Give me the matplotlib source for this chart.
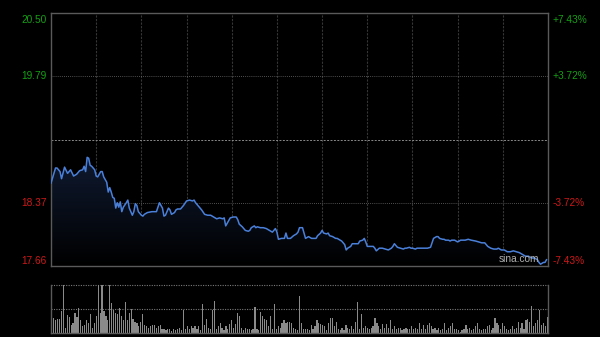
import numpy as np
import matplotlib
matplotlib.use("Agg")
import matplotlib.pyplot as plt
from matplotlib.colors import LinearSegmentedColormap

# ---------------- data ----------------
prev_close = 19.08
y_ticks_left = [20.50, 19.79, 18.37, 17.66]
left_labels = ["20.50", "19.79", "18.37", "17.66"]
right_labels = ["+7.43%", "+3.72%", "-3.72%", "-7.43%"]

minutes = [0, 3, 4, 6, 7, 9, 11, 12, 13, 15, 17, 19, 21, 22, 23, 24, 25, 26, 27, 29,
           30, 31, 33, 34, 35, 37, 38, 39, 40, 41, 42, 43, 44, 45, 46, 47, 48, 50, 51, 52,
           54, 55, 56, 57, 58, 60, 61, 62, 64, 67, 70, 71, 72, 74, 75, 76, 78, 79, 80, 82,
           83, 84, 86, 88, 90, 92, 94, 95, 96, 98, 99, 100, 102, 104, 106, 108, 110, 112, 114, 115,
           116, 118, 119, 121, 123, 124, 125, 127, 129, 131, 132, 133, 135, 136, 137, 139, 141, 143, 145, 147,
           149, 150, 151, 153, 155, 156, 157, 159, 161, 163, 164, 165, 167, 168, 169, 171, 173, 175, 176, 177,
           179, 180, 181, 183, 184, 185, 187, 189, 190, 192, 193, 195, 196, 197, 199, 200, 202, 204, 205, 207,
           208, 209, 210, 212, 214, 215, 216, 218, 219, 220, 222, 224, 226, 227, 228, 230, 232, 234, 235, 236,
           238, 239, 240, 242, 243, 245, 247, 248, 250, 252, 253, 254, 256, 257, 258, 260, 261, 262, 264, 265,
           266, 268, 270, 272, 275, 277, 279, 282, 284, 286, 288, 290, 292, 294, 296, 297, 299, 301, 303, 305,
           307, 309, 311, 313, 315, 317, 319, 320, 321, 323, 324, 325, 327, 328, 329]
prices = [18.59, 18.76, 18.76, 18.72, 18.64, 18.77, 18.70, 18.72, 18.74, 18.67, 18.69, 18.73, 18.74, 18.78, 18.72, 18.88, 18.87, 18.79, 18.78, 18.74,
          18.67, 18.66, 18.72, 18.72, 18.66, 18.60, 18.49, 18.54, 18.49, 18.43, 18.42, 18.31, 18.37, 18.32, 18.38, 18.27, 18.32, 18.37, 18.40, 18.31,
          18.23, 18.27, 18.36, 18.34, 18.27, 18.23, 18.22, 18.24, 18.26, 18.27, 18.27, 18.32, 18.37, 18.31, 18.22, 18.23, 18.31, 18.29, 18.24, 18.26,
          18.29, 18.30, 18.30, 18.34, 18.39, 18.40, 18.39, 18.40, 18.37, 18.33, 18.31, 18.29, 18.24, 18.23, 18.23, 18.21, 18.19, 18.20, 18.19, 18.20,
          18.11, 18.17, 18.20, 18.21, 18.21, 18.18, 18.13, 18.10, 18.06, 18.05, 18.06, 18.09, 18.11, 18.09, 18.10, 18.09, 18.09, 18.08, 18.06, 18.04,
          18.08, 18.04, 17.96, 17.97, 17.97, 18.03, 17.97, 17.97, 18.00, 18.02, 18.04, 18.09, 18.09, 18.03, 17.97, 17.99, 17.97, 17.97, 17.97, 18.00,
          18.03, 18.06, 18.03, 18.02, 18.03, 18.00, 17.99, 17.97, 17.97, 17.95, 17.94, 17.90, 17.84, 17.86, 17.88, 17.91, 17.91, 17.91, 17.94, 17.95,
          17.97, 17.93, 17.88, 17.88, 17.88, 17.86, 17.83, 17.86, 17.86, 17.86, 17.85, 17.84, 17.86, 17.88, 17.91, 17.87, 17.86, 17.85, 17.86, 17.86,
          17.87, 17.86, 17.86, 17.85, 17.86, 17.86, 17.86, 17.86, 17.86, 17.87, 17.92, 17.97, 17.99, 17.99, 17.97, 17.96, 17.96, 17.95, 17.95, 17.94,
          17.95, 17.95, 17.93, 17.95, 17.95, 17.96, 17.95, 17.94, 17.93, 17.92, 17.92, 17.88, 17.86, 17.85, 17.85, 17.86, 17.84, 17.84, 17.82, 17.82,
          17.83, 17.82, 17.81, 17.79, 17.77, 17.77, 17.75, 17.75, 17.75, 17.73, 17.70, 17.68, 17.70, 17.70, 17.73]

volumes = [61, 31, 27, 28, 28, 45, 100, 9, 37, 33, 16, 21, 41, 33, 52, 27, 13, 16, 27, 20,
           39, 9, 20, 35, 100, 41, 100, 45, 35, 27, 100, 62, 48, 41, 38, 52, 34, 27, 64, 27,
           41, 50, 28, 23, 20, 13, 23, 38, 16, 13, 9, 13, 16, 16, 9, 13, 16, 7, 7, 6,
           7, 7, 4, 7, 6, 7, 9, 6, 47, 7, 14, 7, 14, 9, 13, 7, 13, 6, 61, 16,
           28, 9, 7, 47, 66, 7, 13, 21, 9, 6, 13, 7, 18, 26, 9, 18, 41, 35, 9, 6,
           9, 7, 7, 6, 7, 54, 7, 6, 43, 35, 28, 27, 13, 34, 7, 59, 7, 13, 9, 20,
           27,
           20, 23, 23, 20, 9, 7, 6, 77, 20, 7, 7, 7, 6, 16, 7, 13, 26, 20, 18, 16,
           13, 6, 20, 30, 30, 13, 23, 7, 6, 9, 6, 16, 9, 7, 13, 7, 23, 64, 7, 38,
           9, 13, 9, 7, 9, 14, 30, 21, 14, 7, 18, 9, 18, 9, 27, 7, 13, 7, 9, 9,
           6, 7, 9, 7, 7, 13, 7, 9, 7, 20, 7, 16, 7, 16, 20, 13, 7, 9, 6, 9,
           6, 7, 20, 6, 9, 13, 20, 7, 7, 6, 2, 6, 7, 16, 7, 9, 6, 7, 14, 20,
           7, 6, 7, 7, 13, 16, 6, 9, 30, 20, 16, 7, 20, 13, 7, 6, 7, 13, 7, 9,
           23, 9, 21, 7, 27, 28, 23, 55, 13, 20, 27, 47, 16, 21, 13, 33]

# ---------------- figure ----------------
W, H = 600, 337
fig = plt.figure(figsize=(W / 100, H / 100), dpi=100, facecolor="black")
plt.rcParams['font.family'] = ['Liberation Sans', 'DejaVu Sans']

left = 51 / W
width = 497 / W
ax = fig.add_axes([left, 1 - 266 / H, width, 253 / H], facecolor="black")
axv = fig.add_axes([left, 1 - 332.5 / H, width, 47.5 / H], facecolor="black")

ymin, ymax = 17.66, 20.50
xmin, xmax = 0, 330

# gradient fill under the line
grad = LinearSegmentedColormap.from_list("g", ["#000000", "#0f1a30"])
img = ax.imshow(np.linspace(0, 1, 256).reshape(-1, 1), cmap=grad, origin="lower",
                extent=[xmin, xmax, ymin, max(prices)], aspect="auto", zorder=1)
poly = ax.fill_between(minutes, prices, ymin, color="none", lw=0)
img.set_clip_path(poly.get_paths()[0], transform=ax.transData)

ax.plot(minutes, prices, color="#4a80da", lw=1.1, zorder=3)

ax.set_xlim(xmin, xmax)
ax.set_ylim(ymin, ymax)
ax.set_xticks([])
ax.set_yticks([])
for s in ax.spines.values():
    s.set_color("#5a5a5a")
    s.set_linewidth(1.0)

# grid
for m in range(30, 330, 30):
    ax.axvline(m, color="#363636", lw=0.8, ls=(0, (2, 1.2)), zorder=0.5)
for v in [19.79, 18.37]:
    ax.axhline(v, color="#6a6a6a", lw=0.6, ls=(0, (1, 1.5)), zorder=0.5)
ax.axhline(prev_close, color="#8a8a8a", lw=0.7, ls=(0, (2, 1.5)), zorder=0.5)

# labels
green = "#14a014"
red = "#d01818"
fs = 7.3
for v, lt, rt in zip(y_ticks_left, left_labels, right_labels):
    col = green if v > prev_close else red
    if v == ymax:
        va, off = "top", -1.5
    elif v == ymin:
        va, off = "bottom", 0.3
    else:
        va, off = "center", 0
    ax.annotate(lt, xy=(0, v), xycoords=("axes fraction", "data"), xytext=(-3, off),
                textcoords="offset points", ha="right", va=va, color=col, fontsize=fs)
    ax.annotate(rt, xy=(1, v), xycoords=("axes fraction", "data"), xytext=(3, off),
                textcoords="offset points", ha="left", va=va, color=col, fontsize=fs)

ax.text(0.982, 0.008, "sina.com", transform=ax.transAxes, ha="right", va="bottom",
        color="#b0b0b0", fontsize=7.3, zorder=4)

# volume
vx = np.linspace(0.5, 329.5, len(volumes))
axv.bar(vx, volumes, width=0.8, color="#8a8a8a", lw=0, zorder=2)
axv.set_xlim(xmin, xmax)
axv.set_ylim(0, 100)
axv.set_xticks([])
axv.set_yticks([])
for k in ["left", "right", "bottom"]:
    axv.spines[k].set_color("#5a5a5a")
    axv.spines[k].set_linewidth(1.0)
axv.spines["top"].set_visible(False)
axv.axhline(100, color="#7a7a7a", lw=0.8, ls=(0, (1, 1.2)), zorder=1, clip_on=False)
axv.axhline(50, color="#7a7a7a", lw=0.8, ls=(0, (1, 1.2)), zorder=1)

fig.savefig("out.png", dpi=100, facecolor="black")
